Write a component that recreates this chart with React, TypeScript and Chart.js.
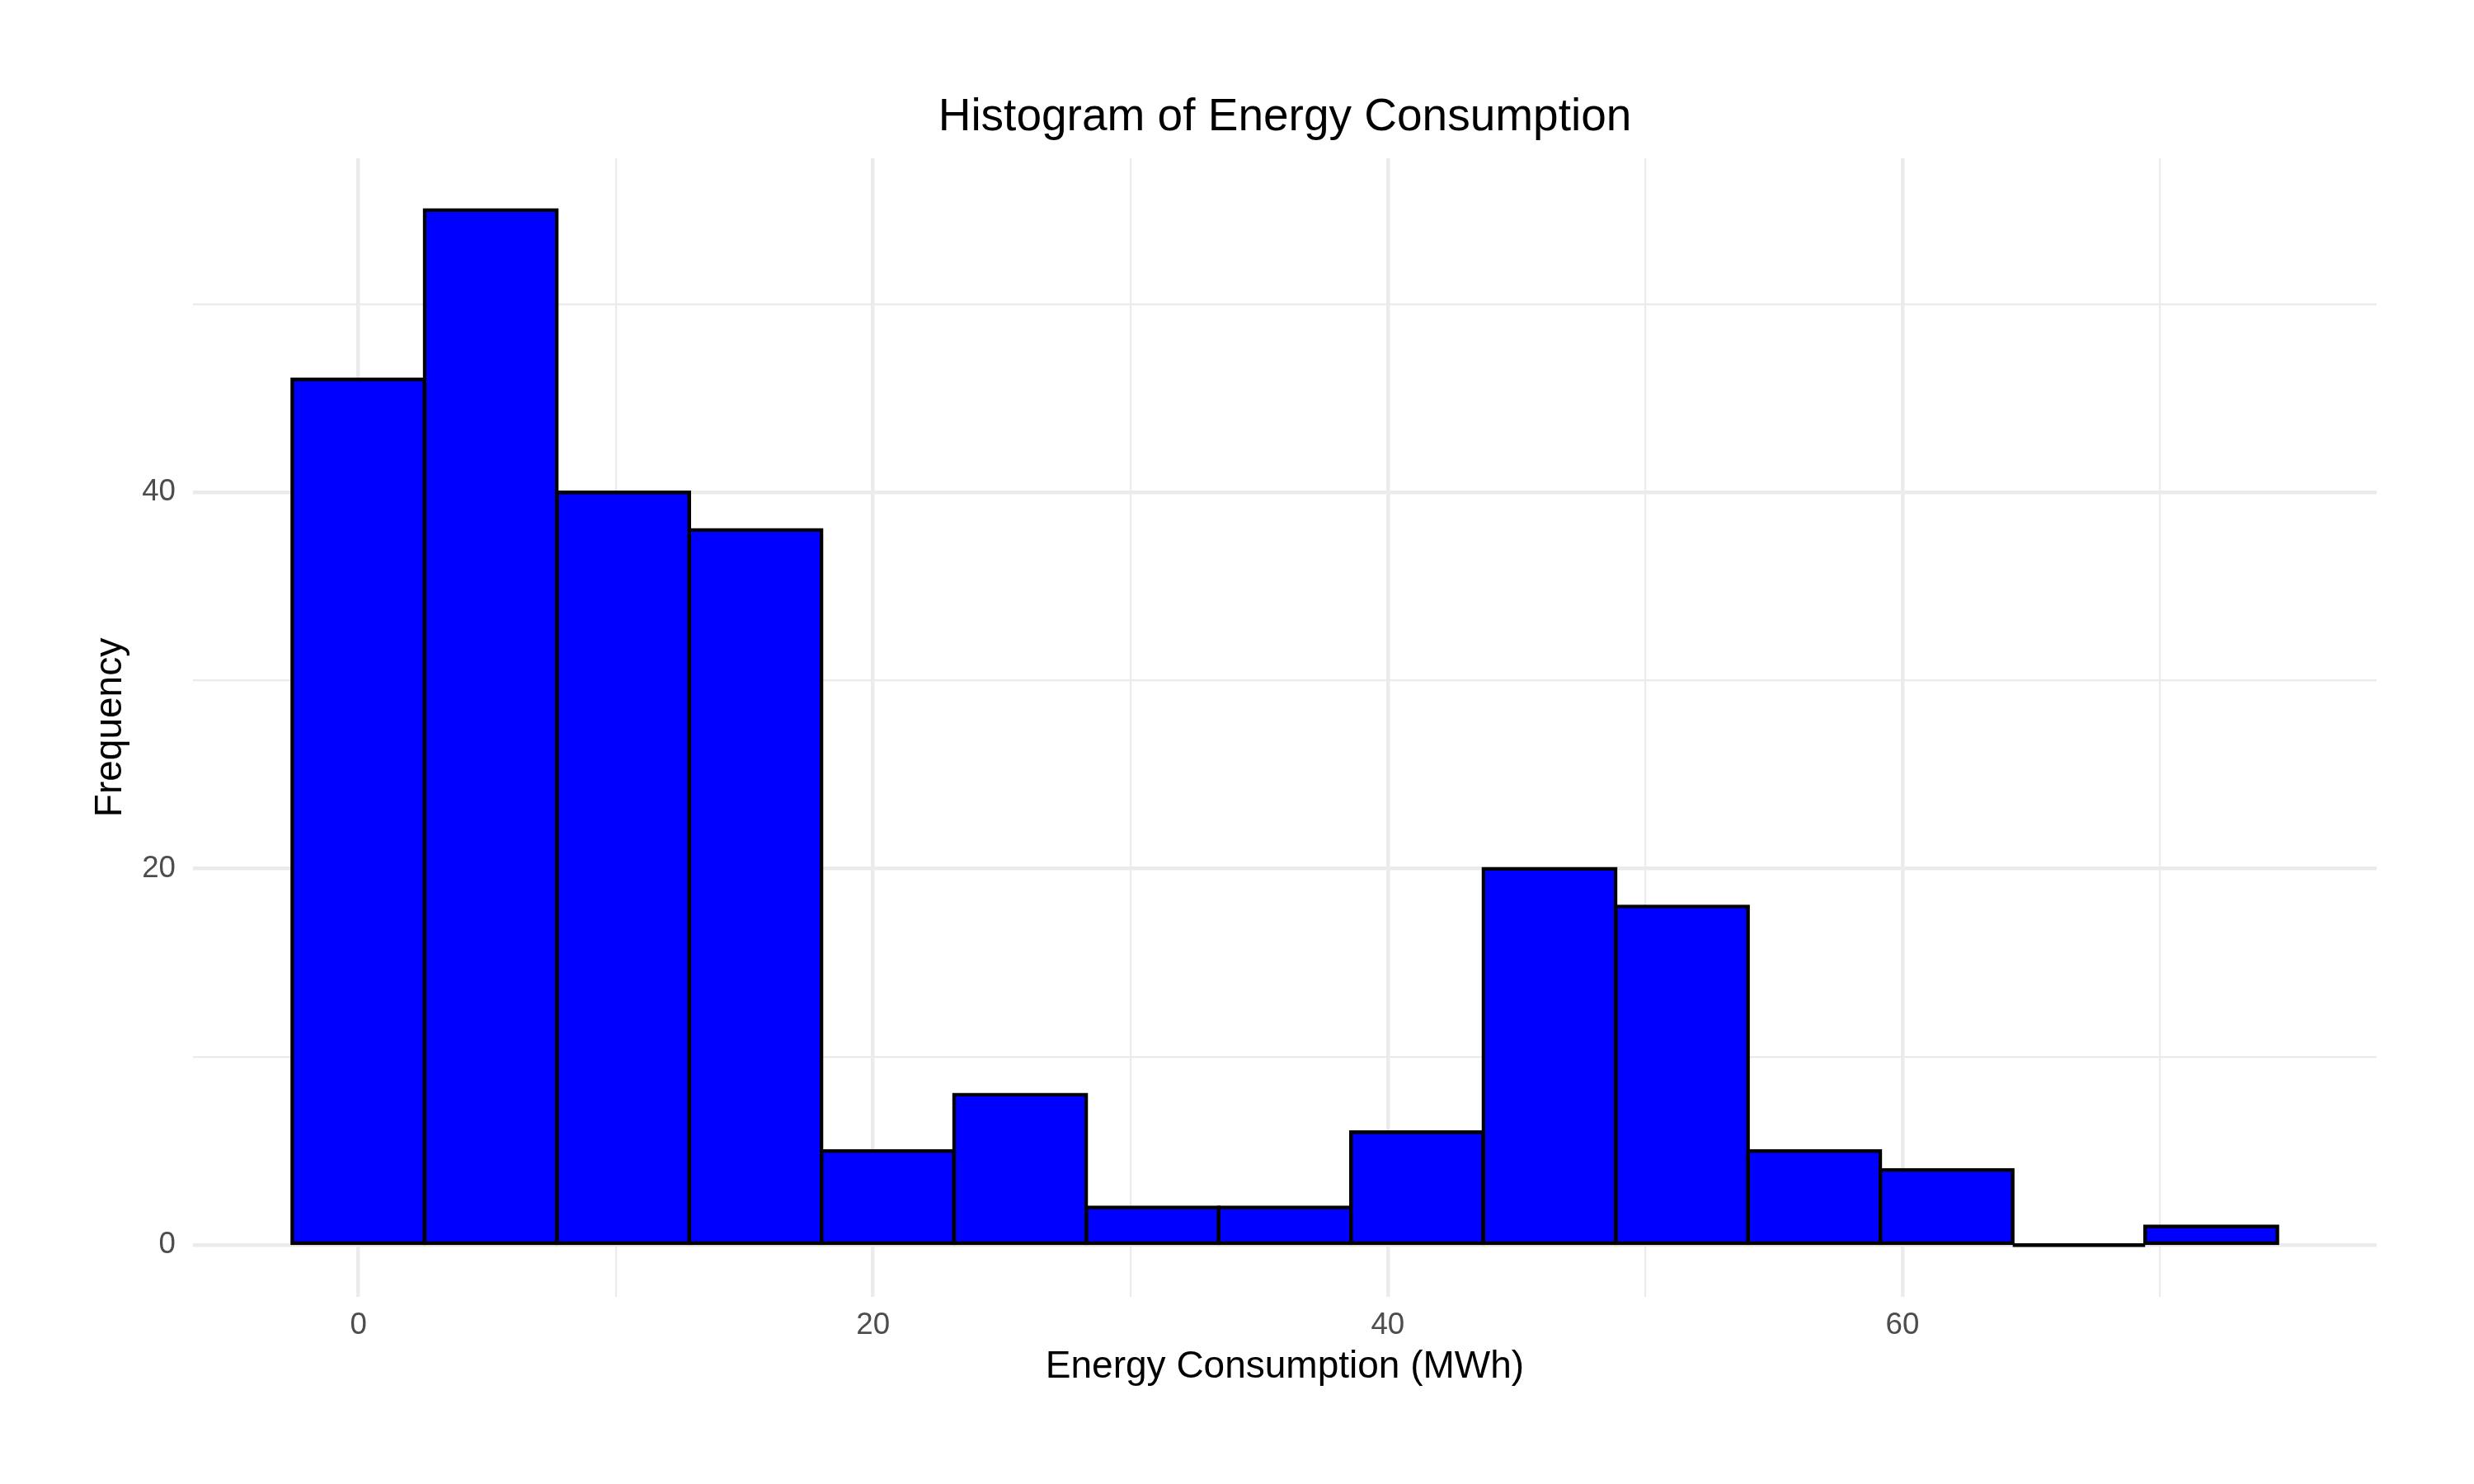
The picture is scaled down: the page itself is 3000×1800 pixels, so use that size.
import React, { useEffect, useRef } from "react";
import { Chart, registerables } from "chart.js";

Chart.register(...registerables);

// Histogram bins (15 bins)
const binEdges = [-2.571, 2.571, 7.714, 12.857, 18.0, 23.143, 28.286, 33.429, 38.571, 43.714, 48.857, 54.0, 59.143, 64.286, 69.429, 74.571];
const counts = [46, 55, 40, 38, 5, 8, 2, 2, 6, 20, 18, 5, 4, 0, 1];
const xTickLabels = [0, 20, 40, 60];
const yTickLabels = [0, 20, 40];

const TITLE = "Histogram of Energy Consumption";
const X_TITLE = "Energy Consumption (MWh)";
const Y_TITLE = "Frequency";

const FONT = "'Liberation Sans', Arial, Helvetica, sans-serif";

export default function App() {
  const canvasRef = useRef<HTMLCanvasElement | null>(null);

  useEffect(() => {
    const canvas = canvasRef.current;
    if (!canvas) return;

    const centers = counts.map((_, i) => (binEdges[i] + binEdges[i + 1]) / 2);
    const barData = counts.map((c, i) => ({ x: centers[i], y: c }));

    const zeroLine: any[] = [];
    counts.forEach((c, i) => {
      if (c === 0) {
        if (zeroLine.length) zeroLine.push({ x: binEdges[i], y: null });
        zeroLine.push({ x: binEdges[i], y: 0 });
        zeroLine.push({ x: binEdges[i + 1], y: 0 });
      }
    });

    const lo = binEdges[0];
    const hi = binEdges[binEdges.length - 1];
    const xPad = (hi - lo) * 0.05;
    const yMax = Math.max(...counts);
    const yPad = yMax * 0.05;

    const major = 4.45;
    const minor = 2.2;
    const gridColor = "#EBEBEB";

    const chart = new Chart(canvas, {
      type: "bar",
      data: {
        datasets: [
          {
            type: "bar",
            data: barData,
            backgroundColor: "#0000FF",
            borderColor: "#000000",
            borderWidth: 4.45,
            borderSkipped: false,
            inflateAmount: 2.225,
            barPercentage: 1,
            categoryPercentage: 1,
            xAxisID: "x",
            yAxisID: "y",
          } as any,
          {
            type: "line",
            data: zeroLine,
            borderColor: "#000000",
            borderWidth: 4.45,
            pointRadius: 0,
            spanGaps: false,
            xAxisID: "x",
            yAxisID: "y",
          } as any,
        ],
      },
      options: {
        responsive: false,
        animation: false,
        devicePixelRatio: 1,
        layout: { padding: { left: 0, right: 118, top: 0, bottom: 0 } },
        plugins: {
          legend: { display: false },
          tooltip: { enabled: false },
          title: { display: false },
        },
        scales: {
          x: {
            type: "linear",
            position: "bottom",
            offset: false,
            min: lo - xPad,
            max: hi + xPad,
            border: { display: false },
            grid: {
              offset: false,
              color: gridColor,
              drawTicks: false,
              lineWidth: (ctx: any) =>
                ctx.tick && xTickLabels.includes(ctx.tick.value) ? major : minor,
            },
            ticks: {
              stepSize: 10,
              includeBounds: false,
              autoSkip: false,
              maxRotation: 0,
              padding: 13,
              color: "#4D4D4D",
              font: { family: FONT, size: 36.7 },
              callback: (v: any) => (xTickLabels.includes(Number(v)) ? String(v) : ""),
            },
            title: {
              display: true,
              text: X_TITLE,
              color: "#000000",
              font: { family: FONT, size: 46 },
              padding: { top: 0, bottom: 114 },
            },
            afterFit: (scale: any) => {
              scale.height = 227;
            },
          },
          xTop: {
            type: "linear",
            position: "top",
            offset: false,
            min: lo - xPad,
            max: hi + xPad,
            border: { display: false },
            grid: { display: false, drawTicks: false, offset: false },
            ticks: { display: false },
            title: {
              display: true,
              text: TITLE,
              color: "#000000",
              font: { family: FONT, size: 55 },
              padding: { top: 110, bottom: 0 },
            },
            afterFit: (scale: any) => {
              scale.height = 192;
            },
          },
          y: {
            type: "linear",
            position: "left",
            min: -yPad,
            max: yMax + yPad,
            border: { display: false },
            grid: {
              color: gridColor,
              drawTicks: false,
              lineWidth: (ctx: any) =>
                ctx.tick && yTickLabels.includes(ctx.tick.value) ? major : minor,
            },
            ticks: {
              stepSize: 10,
              includeBounds: false,
              autoSkip: false,
              padding: 21,
              color: "#4D4D4D",
              font: { family: FONT, size: 36.7 },
              callback: (v: any) => (yTickLabels.includes(Number(v)) ? String(v) : ""),
            },
            title: {
              display: true,
              text: Y_TITLE,
              color: "#000000",
              font: { family: FONT, size: 46 },
              padding: { top: 107, bottom: 0 },
            },
            afterFit: (scale: any) => {
              scale.width = 234;
            },
          },
        },
      } as any,
    });

    return () => chart.destroy();
  }, []);

  return (
    <div style={{ position: "absolute", left: 0, top: 0, width: 3000, height: 1800, background: "#ffffff" }}>
      <canvas ref={canvasRef} width={3000} height={1800} style={{ display: "block", width: 3000, height: 1800 }} />
    </div>
  );
}
